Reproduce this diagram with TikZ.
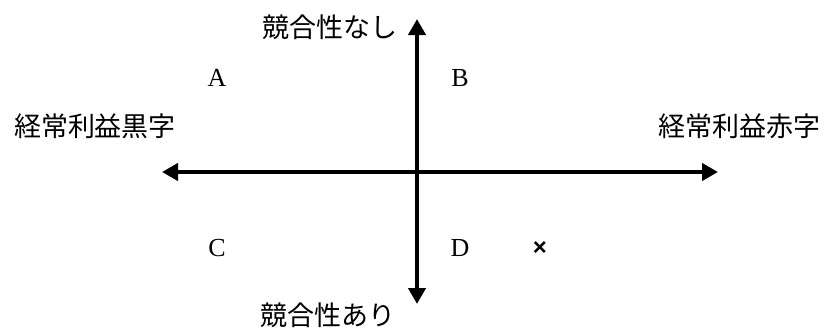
\documentclass[tikz,border=0pt]{standalone}
\usepackage{fontspec}
\setmainfont{Liberation Serif}
\newfontfamily\cjk{Noto Sans CJK JP}
\newfontfamily\sym{Liberation Sans}
\usetikzlibrary{arrows.meta}
\begin{document}
\begin{tikzpicture}[x=1pt,y=-1pt,
  axis/.style={line width=4pt,-{Triangle[length=16pt,width=17pt]}},
  lab/.style={font=\cjk\fontsize{27}{27}\selectfont,inner sep=0pt},
  letter/.style={font=\fontsize{26}{26}\selectfont,inner sep=0pt}]
\useasboundingbox (0,0) rectangle (825,327);
\coordinate (c) at (417,172);
\coordinate (top) at (417,19);
\coordinate (bot) at (417,304);
\coordinate (left) at (162,172);
\coordinate (right) at (718,172);
\draw[axis] (c) -- (top);
\draw[axis] (c) -- (bot);
\draw[axis] (c) -- (left);
\draw[axis] (c) -- (right);
\node[lab] (nn) at (330,27) {競合性なし};
\node[lab] (na) at (328,315) {競合性あり};
\node[lab] (kl) at (95,126) {経常利益黒字};
\node[lab] (kr) at (739,126) {経常利益赤字};
\node[letter] (A) at (217,78) {A};
\node[letter] (B) at (460,78) {B};
\node[letter] (C) at (217,248) {C};
\node[letter] (D) at (460,248) {D};
\node[font=\sym\bfseries\fontsize{24}{24}\selectfont,inner sep=0pt] (x) at (540,248) {×};
\end{tikzpicture}
\end{document}
